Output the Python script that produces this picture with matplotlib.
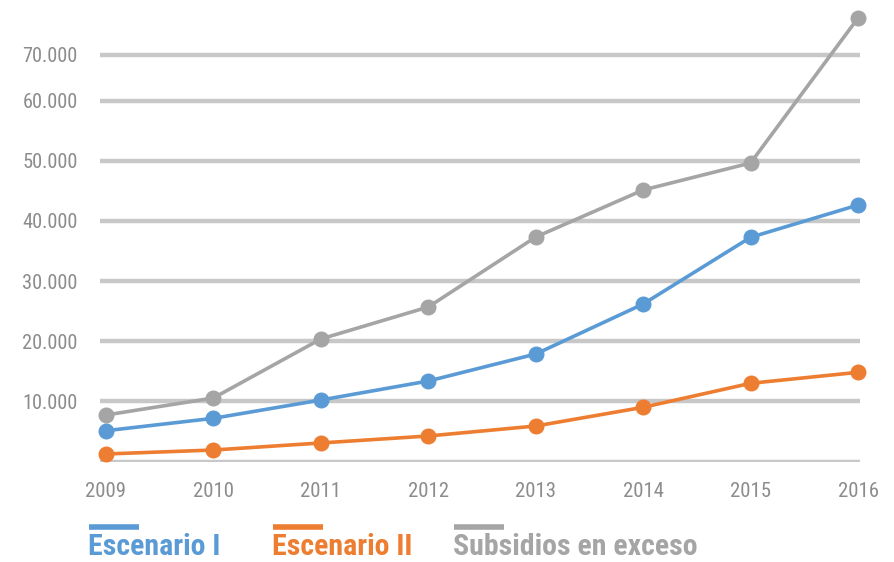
import matplotlib
matplotlib.use("Agg")
import matplotlib.pyplot as plt
from matplotlib.lines import Line2D
from matplotlib import font_manager as fm

years = [2009, 2010, 2011, 2012, 2013, 2014, 2015, 2016]
escenario_1 = [5120, 7180, 10220, 13380, 17870, 26180, 37270, 42640]
escenario_2 = [1250, 1910, 3080, 4240, 5900, 9010, 13000, 14830]
subsidios = [7730, 10560, 20370, 25690, 37320, 45140, 49630, 73730]

series_names = ["Escenario I", "Escenario II", "Subsidios en exceso"]
colors = ["#5b9bd5", "#ed7d31", "#a5a5a5"]

# gridline values as drawn in the reference (top line drawn lower than its label)
grid_values = [0, 10000, 20000, 30000, 40000, 50000, 60000, 67660]
grid_labels = ["", "10.000", "20.000", "30.000", "40.000", "50.000", "60.000", "70.000"]

# pick a condensed face if one is installed
names = {f.name for f in fm.fontManager.ttflist}
cond = [f for f in fm.fontManager.ttflist
        if str(f.stretch) in ("condensed", "semi-condensed", "extra-condensed") or
        (isinstance(f.stretch, int) and f.stretch < 500)]
FAM, STRETCH = "Roboto", "normal"
for cand in ["Liberation Sans Narrow", "Roboto Condensed", "Open Sans Condensed"]:
    if cand in names:
        FAM = cand
        break
else:
    dv = [f for f in cond if f.name == "DejaVu Sans"]
    if dv:
        FAM, STRETCH = "DejaVu Sans", "condensed"
plt.rcParams["font.family"] = [FAM, "DejaVu Sans"]

W, H = 895, 562
fig = plt.figure(figsize=(W / 100, H / 100), dpi=100)
ax = fig.add_axes([100 / W, (H - 461.5) / H, 760 / W, (461.5 - 10.4) / H])

ax.set_xlim(2009 - 6 / 107.43, 2016 + 2 / 107.43)
ax.set_ylim(0, 75000)

for v in grid_values:
    ax.axhline(v, color="#c8c8c8", lw=3.2, zorder=1, solid_capstyle="butt")

for vals, c in zip([subsidios, escenario_1, escenario_2], [colors[2], colors[0], colors[1]]):
    ax.plot(years, vals, color=c, lw=2.6, marker="o", markersize=10.5,
            zorder=3, clip_on=False)

for s in ax.spines.values():
    s.set_visible(False)

renderer = fig.canvas.get_renderer()


def fit_size(text, target_px, weight="normal", base=14):
    t = fig.text(0, 0, text, fontsize=base, fontweight=weight,
                 family=[FAM, "DejaVu Sans"], fontstretch=STRETCH)
    w = t.get_window_extent(renderer).width
    t.remove()
    return base * target_px / w


xt_size = fit_size("2009", 41)
yt_size = fit_size("70.000", 56)

ax.set_yticks(grid_values)
ax.set_yticklabels(grid_labels)
ax.set_xticks(years)
ax.set_xticklabels([str(y) for y in years])
ax.tick_params(axis="both", length=0, labelcolor="#8c8c8c")
for lab in ax.get_xticklabels():
    lab.set_fontsize(xt_size)
    lab.set_fontstretch(STRETCH)
for lab in ax.get_yticklabels():
    lab.set_fontsize(yt_size)
    lab.set_fontstretch(STRETCH)
ax.tick_params(axis="y", pad=16)
ax.tick_params(axis="x", pad=15)

# custom legend: colored bar above bold label
legend_x = [88, 272, 453]
legend_w = [132, 140, 244]
leg_size = min(fit_size(n, w, "bold", 20) for n, w in zip(series_names, legend_w))
for name, c, x in zip(series_names, colors, legend_x):
    fig.add_artist(Line2D([(x + 1) / W, (x + 51) / W], [(H - 527) / H, (H - 527) / H],
                          color=c, lw=4, solid_capstyle="butt", transform=fig.transFigure))
    fig.text(x / W, (H - 555) / H, name, color=c, fontsize=leg_size, fontweight="bold",
             fontstretch=STRETCH, ha="left", va="baseline", family=[FAM, "DejaVu Sans"])

fig.savefig("out.png", dpi=100)
